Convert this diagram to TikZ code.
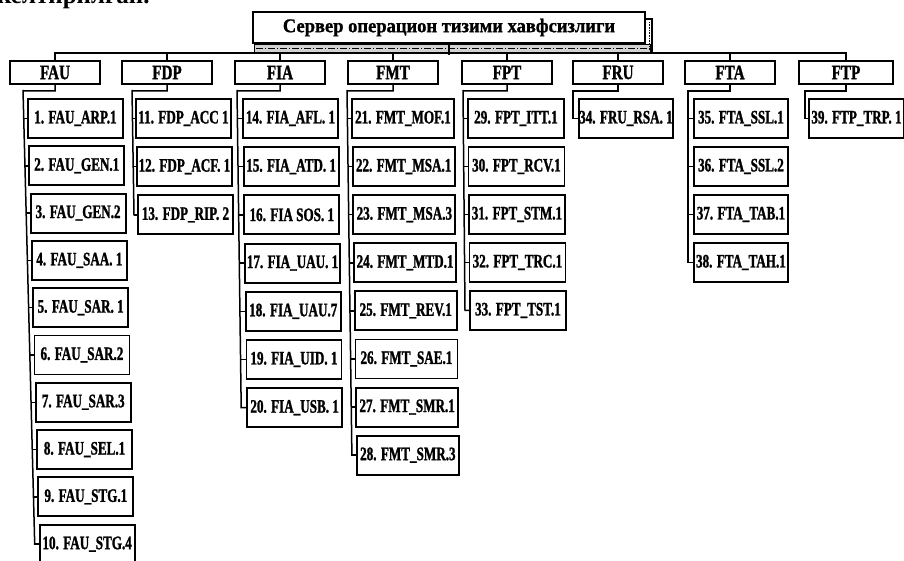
\documentclass[tikz,border=0pt]{standalone}
\usepackage{fontspec}
\setmainfont{Liberation Serif}
\newfontfamily\cf{Liberation Serif}[FakeStretch=0.69,FakeBold=1.3]
\newfontfamily\hf{Liberation Serif}[FakeStretch=0.74,FakeBold=1.3]
\newfontfamily\tf{Liberation Serif}[FakeStretch=0.95,FakeBold=1]
\usetikzlibrary{calc}
\tikzset{
  hdr/.style={draw, line width=1.8pt, minimum width=90, minimum height=23, inner sep=0pt,
    font=\hf\bfseries\fontsize{20.5}{20.5}\selectfont},
  child/.style={draw, line width=1.9pt, minimum height=39, inner sep=0pt,
    font=\cf\bfseries\fontsize{19}{19}\selectfont},
  conn/.style={line width=1.5pt},
  titlebox/.style={draw, line width=2.6pt, minimum width=392, minimum height=31, inner sep=0pt,
    font=\tf\bfseries\fontsize{19.5}{19.5}\selectfont},
}
% #1 id, #2 column x, #3 first box left, #4 box width, #5 pitch, #6 drift, #7 texts, #8 last index
\newcommand{\mkgroup}[8]{%
  \foreach \txt [count=\kk from 0] in {#7} {
    \node[child, minimum width=#4, anchor=north west] (#1-\kk) at ({#3+#6*\kk},{98+#5*\kk}) {\txt};
    \draw[conn] (#1-\kk.west) -- ++({#2-#3},0);
  }
  \coordinate (#1-top) at (#2,90);
  \draw[conn] (#1.south) -- ++(0,6) -| (#1-top) -- ($(#1-#8.west)+({#2-#3},0)$) -- (#1-#8.west);
}
\begin{document}
\begin{tikzpicture}[x=1pt,y=-1pt]
\useasboundingbox (0,0) rectangle (904,560);
\clip (0,0) rectangle (904,560);
\fill[white] (0,0) rectangle (904,560);
% cut-off line of text above the figure
\node[anchor=base west, inner sep=0pt, font=\bfseries\fontsize{25}{25}\selectfont] (prev) at (-3,3) {келтирилган.};
% title with its shadow band
\fill[gray!35] (254,44) rectangle (650,52);
\draw[line width=0.5pt] (254,44) rectangle (650,52);
\draw[line width=1pt, dash pattern=on 7pt off 2pt on 1pt off 2pt] (256,48) -- (648,48);
\draw[line width=1.2pt] (645,19) -- (652,19) -- (652,52);
\draw[line width=0.6pt, densely dotted] (649,22) -- (649,50);
\node[titlebox] (title) at (449,27.5) {Сервер операцион тизими хавфсизлиги};
% headers
\node[hdr] (FAU) at (55,72.5) {FAU};
\node[hdr] (FDP) at (167,72.5) {FDP};
\node[hdr] (FIA) at (280,72.5) {FIA};
\node[hdr] (FMT) at (393,72.5) {FMT};
\node[hdr] (FPT) at (507,72.5) {FPT};
\node[hdr] (FRU) at (618,72.5) {FRU};
\node[hdr] (FTA) at (730,72.5) {FTA};
\node[hdr, minimum width=94] (FTP) at (846,72.5) {FTP};
% bus
\draw[conn] (title.south) -- ++(0,11);
\draw[conn] (FAU.north) -- ++(0,-7) -| (FTP.north);
\foreach \h in {FDP,FIA,FMT,FPT,FRU,FTA} { \draw[conn] (\h.north) -- ++(0,-7); }
% groups
\mkgroup{FAU}{23}{27}{95}{47.3}{1.3}{1. FAU\_ARP.1, 2. FAU\_GEN.1, 3. FAU\_GEN.2, 4. FAU\_SAA. 1, 5. FAU\_SAR. 1, 6. FAU\_SAR.2, 7. FAU\_SAR.3, 8. FAU\_SEL.1, 9. FAU\_STG.1, 10. FAU\_STG.4}{9}
\mkgroup{FDP}{132}{135}{95}{48.2}{1.0}{11. FDP\_ACC 1, 12. FDP\_ACF. 1, 13. FDP\_RIP. 2}{2}
\mkgroup{FIA}{237}{242}{95}{48.2}{0.7}{14. FIA\_AFL. 1, 15. FIA\_ATD. 1, 16. FIA SOS. 1, 17. FIA\_UAU. 1, 18. FIA\_UAU.7, 19. FIA\_UID. 1, 20. FIA\_USB. 1}{6}
\mkgroup{FMT}{347}{351}{102}{48.1}{0.7}{21. FMT\_MOF.1, 22. FMT\_MSA.1, 23. FMT\_MSA.3, 24. FMT\_MTD.1, 25. FMT\_REV.1, 26. FMT\_SAE.1, 27. FMT\_SMR.1, 28. FMT\_SMR.3}{7}
\mkgroup{FPT}{463}{467}{96}{48}{0.5}{29. FPT\_ITT.1, 30. FPT\_RCV.1, 31. FPT\_STM.1, 32. FPT\_TRC.1, 33. FPT\_TST.1}{4}
\mkgroup{FRU}{573}{578}{94}{48}{0}{34. FRU\_RSA. 1}{0}
\mkgroup{FTA}{688}{693}{94}{48}{0}{35. FTA\_SSL.1, 36. FTA\_SSL.2, 37. FTA\_TAB.1, 38. FTA\_TAH.1}{3}
\mkgroup{FTP}{805}{808}{95}{48}{0}{39. FTP\_TRP. 1}{0}
\end{tikzpicture}
\end{document}
